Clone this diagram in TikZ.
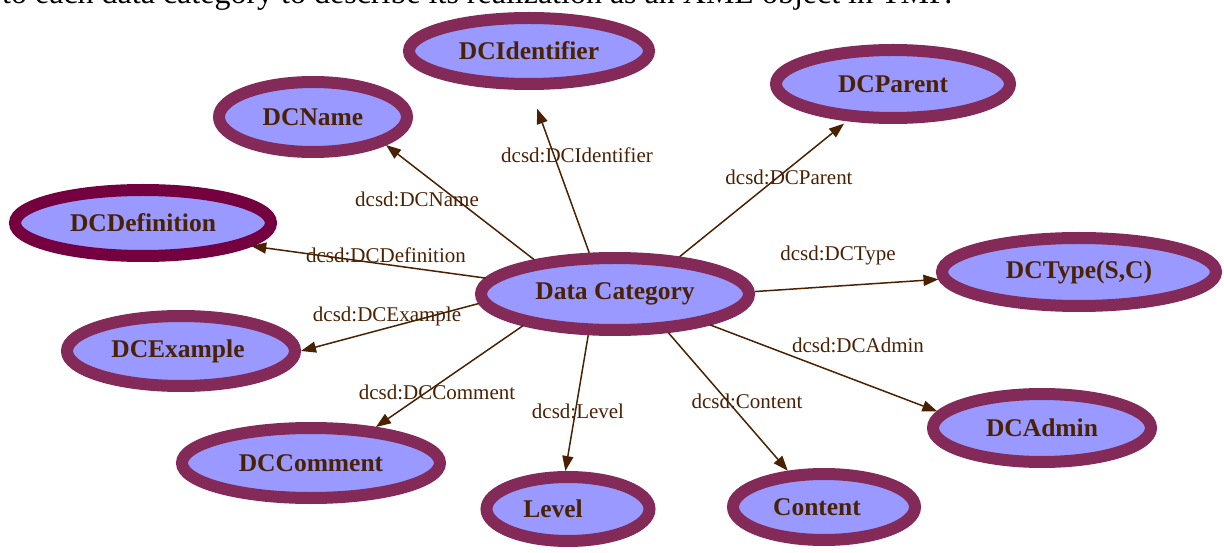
\documentclass[tikz,border=0pt]{standalone}
\usepackage{fontspec}
\setmainfont{Liberation Serif}
\usetikzlibrary{shapes.geometric,arrows.meta}
\definecolor{fillc}{HTML}{9999FF}
\definecolor{bord}{HTML}{832A59}
\definecolor{bordd}{HTML}{75003F}
\definecolor{ink}{HTML}{4A2103}
\begin{document}
\begin{tikzpicture}[x=1pt,y=-1pt,
  cat/.style={ellipse,draw=bord,line width=12pt,fill=fillc,text=ink,
    font=\fontsize{25.5}{30}\selectfont\bfseries,inner sep=0pt},
  rel/.style={draw=ink,line width=1.5pt,-{Triangle[length=15pt,width=11pt]}},
  lab/.style={text=ink,font=\fontsize{21}{25}\selectfont,inner sep=0pt}]
\useasboundingbox (0,0) rectangle (1224,553);
\clip (0,0) rectangle (1224,553);
\node[anchor=base west,font=\fontsize{32}{36}\selectfont,inner sep=0pt] (top) at (2,4)
  {to each data category to describe its realization as an XML object in TMF.};

\node[cat,minimum width=240pt,minimum height=66pt] (dcid) at (529,51) {DCIdentifier};
\node[cat,minimum width=188pt,minimum height=70pt] (name) at (313,117) {DCName};
\node[cat,minimum width=234pt,minimum height=68pt] (parent) at (893,84) {DCParent};
\node[cat,draw=bordd,minimum width=256pt,minimum height=66pt] (def) at (143,223) {DCDefinition};
\node[cat,minimum width=274pt,minimum height=68pt] (type) at (1079,272) {DCType(S,C)};
\node[cat,minimum width=268pt,minimum height=72pt] (dc) at (615,294) {Data Category};
\node[cat,minimum width=228pt,minimum height=70pt] (ex) at (181,351) {DCExample\kern6pt};
\node[cat,minimum width=218pt,minimum height=68pt] (admin) at (1042,428) {DCAdmin};
\node[cat,minimum width=258pt,minimum height=70pt] (comment) at (311,463) {DCComment};
\node[cat,minimum width=163pt,minimum height=64pt] (level) at (568,509) {Level\kern30pt};
\node[cat,minimum width=182pt,minimum height=66pt] (content) at (824,507) {Content\kern14pt};

\draw[rel,shorten >=20pt] (dc.122.6) -- (dcid.272.8);
\draw[rel] (dc.157) -- (name.-21);
\draw[rel,shorten >=4pt] (dc.30.5) -- (parent.219.6);
\draw[rel] (dc.173) -- (def.-12.9);
\draw[rel] (dc.1.2) -- (type.183);
\draw[rel] (dc.184.6) -- (ex.0.5);
\draw[rel] (dc.-18.8) -- (admin.171.9);
\draw[rel] (dc.199.6) -- (comment.29.6);
\draw[rel] (dc.237) -- (level.94.4);
\draw[rel] (dc.-36) -- (content.135.7);

\node[lab] (l1) at (577,155) {dcsd:DCIdentifier};
\node[lab] (l2) at (417,199) {dcsd:DCName};
\node[lab] (l3) at (789,177) {dcsd:DCParent};
\node[lab] (l4) at (386,255) {dcsd:DCDefinition};
\node[lab] (l5) at (838,255) {dcsd:DCType};
\node[lab] (l6) at (387,316) {dcsd:DCExample};
\node[lab] (l7) at (858,345) {dcsd:DCAdmin};
\node[lab] (l8) at (437,392) {dcsd:DCComment};
\node[lab] (l9) at (578,411) {dcsd:Level};
\node[lab] (l10) at (747,401) {dcsd:Content};
\end{tikzpicture}
\end{document}
